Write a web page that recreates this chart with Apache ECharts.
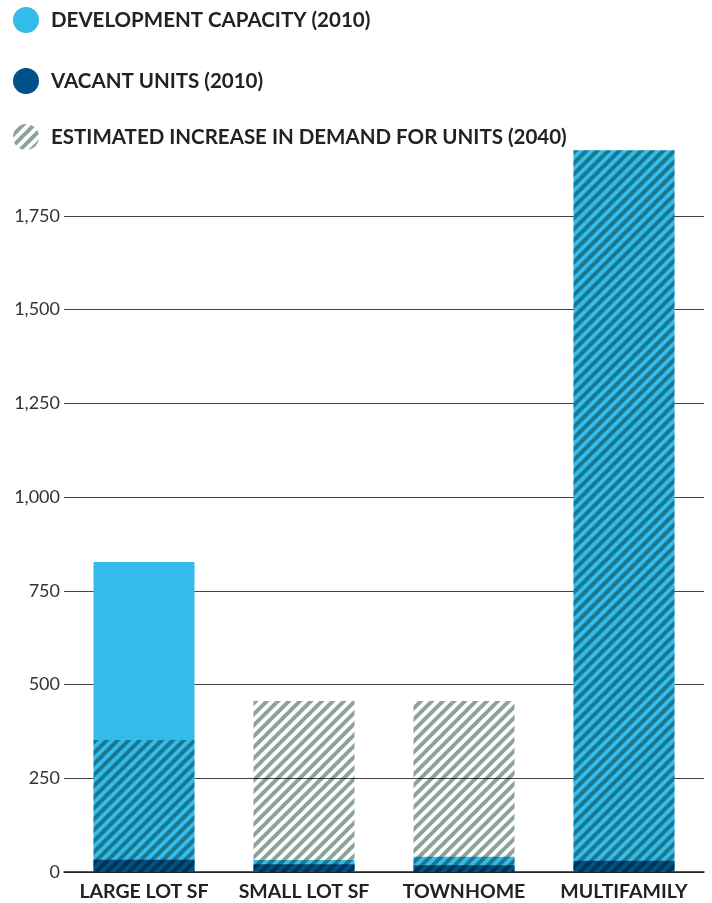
<!DOCTYPE html>
<html>
<head>
<meta charset="utf-8">
<script src="https://cdn.jsdelivr.net/npm/echarts@6/dist/echarts.min.js"></script>
<style>
html,body{margin:0;padding:0;background:#fff;}
#chart{width:712px;height:903px;}
</style>
</head>
<body>
<div id="chart"></div>
<script>
const categories = ['LARGE LOT SF', 'SMALL LOT SF', 'TOWNHOME', 'MULTIFAMILY'];
const developmentCapacity = [827, 32, 41, 1925];
const vacantUnits = [33, 21, 18, 30];
const demandIncrease = [352, 456, 456, 1925];
const yTicks = [0, 250, 500, 750, 1000, 1250, 1500, 1750];
const seriesNames = ['DEVELOPMENT CAPACITY (2010)', 'VACANT UNITS (2010)', 'ESTIMATED INCREASE IN DEMAND FOR UNITS (2040)'];

function makeHatch() {
  const s = 11;
  const c = document.createElement('canvas');
  c.width = s; c.height = s;
  const ctx = c.getContext('2d');
  ctx.strokeStyle = '#8ca497';
  ctx.lineWidth = 4;
  ctx.lineCap = 'square';
  for (let k = -1; k <= 1; k++) {
    ctx.beginPath();
    ctx.moveTo(k * s - 2, s + 2);
    ctx.lineTo(k * s + s + 2, -2);
    ctx.stroke();
  }
  return c;
}
const hatch = { image: makeHatch(), repeat: 'repeat' };

const chart = echarts.init(document.getElementById('chart'), null, { renderer: 'canvas' });
const legendBase = {
  orient: 'vertical', left: 13, padding: 0, itemWidth: 26, itemHeight: 26, icon: 'circle',
  selectedMode: false,
  textStyle: { fontFamily: 'Lato', fontWeight: 'bold', fontSize: 20.5, color: '#222', padding: [0, 0, 0, 7] }
};
chart.setOption({
  animation: false,
  legend: [
    Object.assign({}, legendBase, { top: 7, data: [seriesNames[0]] }),
    Object.assign({}, legendBase, { top: 68, data: [seriesNames[1]] }),
    Object.assign({}, legendBase, { top: 124, data: [seriesNames[2]] })
  ],
  grid: { left: 64, right: 8, top: 122, bottom: 31 },
  xAxis: {
    type: 'category',
    data: categories,
    axisTick: { show: false },
    axisLine: { show: true, lineStyle: { color: '#1a1a1a', width: 1.5 } },
    axisLabel: { interval: 0, hideOverlap: false, fontFamily: 'Lato', fontWeight: 'bold', fontSize: 19.5, color: '#222', margin: 10 }
  },
  yAxis: {
    type: 'value',
    min: 0, max: 2000, interval: 250,
    axisLine: { show: false },
    axisTick: { show: false },
    axisLabel: {
      showMaxLabel: false,
      margin: 4,
      fontFamily: 'Lato', fontSize: 18, color: '#333',
      formatter: v => yTicks.indexOf(v) >= 0 ? v.toLocaleString('en-US') : ''
    },
    splitLine: { show: true, showMaxLine: false, lineStyle: { color: '#444', width: 1 } }
  },
  series: [
    {
      name: seriesNames[0], type: 'bar', data: developmentCapacity, barWidth: 101, barGap: '-100%',
      itemStyle: { color: '#33bbec' }, z: 2
    },
    {
      name: seriesNames[1], type: 'bar', data: vacantUnits, barWidth: 101, barGap: '-100%',
      itemStyle: { color: '#00508a' }, z: 3
    },
    {
      name: seriesNames[2], type: 'bar', data: demandIncrease, barWidth: 101, barGap: '-100%',
      itemStyle: { color: hatch }, z: 4, blendMode: 'multiply'
    }
  ]
});
</script>
</body>
</html>
